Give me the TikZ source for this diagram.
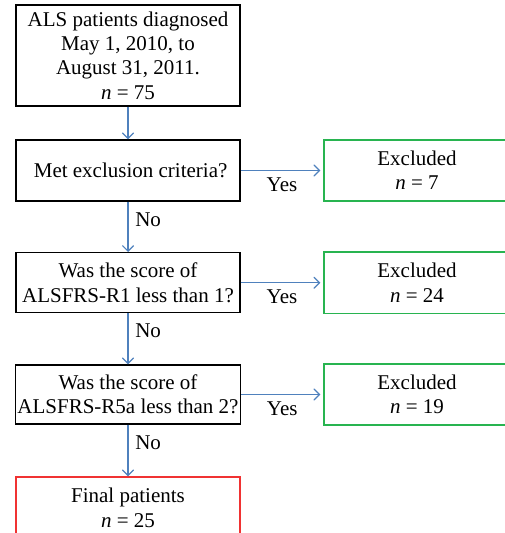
\documentclass[tikz,border=0pt]{standalone}
\usepackage{fontspec}
\setmainfont{Liberation Serif}
\usetikzlibrary{arrows}
\usetikzlibrary{calc,shapes}
\usepackage{color}

\definecolor{flowblue}{RGB}{79,129,189}
\definecolor{exclgreen}{RGB}{40,180,80}
\definecolor{finalred}{RGB}{240,50,50}

\tikzset{
  box/.style={draw=black,line width=0.7pt,align=center,minimum width=112pt,inner sep=1pt},
  outbox/.style={draw=exclgreen,line width=0.7pt,align=center,minimum width=93pt,minimum height=30.5pt,inner sep=1pt},
  flow/.style={->,>=angle 90,flowblue,line width=0.6pt},
  answer/.style={text=black}
}

\begin{document}
\begin{tikzpicture}[x=0.5pt,y=-0.5pt,every node/.append style={font=\fontsize{10.5}{12.2}\selectfont}]
				\useasboundingbox (0,0) rectangle (504,533);
				% Boîtes
				\node [box,minimum height=50.5pt] (start) at (128,55.5) {ALS patients diagnosed\\May 1, 2010, to\\August 31, 2011.\\\textit{n} = 75};
				\node [box,minimum height=30.5pt] (crit) at (128,170.5) {\ Met exclusion criteria?};
				\node [box,minimum height=30pt] (rone) at (128,282.7) {Was the score of\\ALSFRS-R1 less than 1?};
				\node [box,minimum height=29.5pt] (rfive) at (128,394.5) {Was the score of\\ALSFRS-R5a less than 2?};
				\node [box,draw=finalred,minimum height=31pt] (final) at (128,508) {Final patients\\\textit{n} = 25};
				\node [outbox] (out1) at (417,170.5) {Excluded\\\textit{n} = 7};
				\node [outbox] (out2) at (417,282.7) {Excluded\\\textit{n} = 24};
				\node [outbox] (out3) at (417,394.5) {Excluded\\\textit{n} = 19};
				% Flèches
				\draw [flow] (start) -- (crit);
				\draw [flow] (crit) -- (rone) node [answer,pos=0.35,right]{No};
				\draw [flow] (rone) -- (rfive) node [answer,pos=0.35,right]{No};
				\draw [flow] (rfive) -- (final) node [answer,pos=0.35,right]{No};
				\draw [flow,shorten >=1.5pt] (crit) -- (out1) node [answer,midway,below]{Yes};
				\draw [flow,shorten >=1.5pt] (rone) -- (out2) node [answer,midway,below]{Yes};
				\draw [flow,shorten >=1.5pt] (rfive) -- (out3) node [answer,midway,below]{Yes};
\end{tikzpicture}
\end{document}
